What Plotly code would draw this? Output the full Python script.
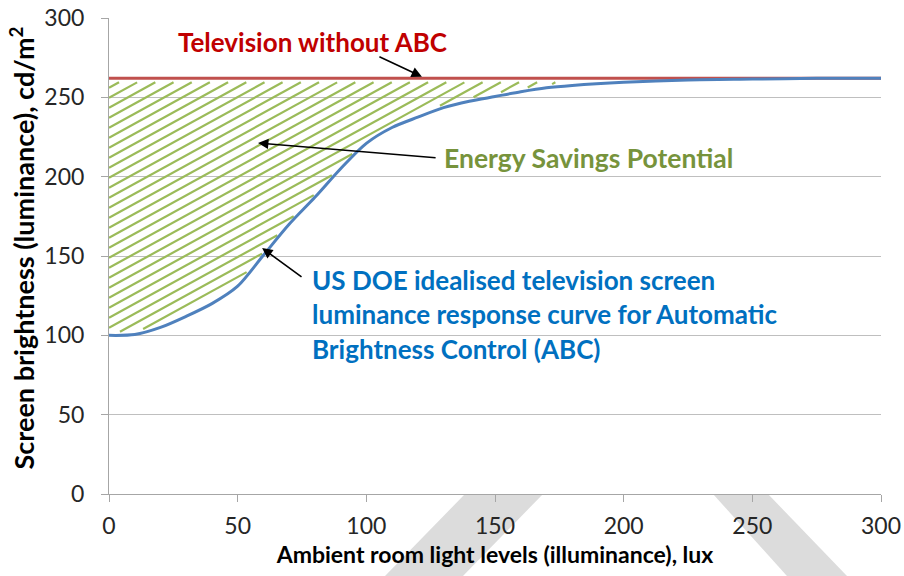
import numpy as np
import plotly.graph_objects as go

# ---- data ----
lux = [0, 10, 20, 30, 40, 50, 60, 70, 80, 90, 100, 110, 120, 130, 140, 150,
       160, 170, 180, 200, 225, 250, 275, 300]
abc_luminance = [100, 100.5, 105, 112, 120, 131, 150.5, 170, 187, 205, 221, 231,
                 237.5, 243.5, 247.5, 250.5, 253.5, 256, 257.5, 259.5, 261, 261.5, 262, 262]
no_abc_lux = [0, 300]
no_abc_luminance = [262, 262]

x_ticks = [0, 50, 100, 150, 200, 250, 300]
y_ticks = [0, 50, 100, 150, 200, 250, 300]

FONT = "Lato, 'Open Sans', sans-serif"

# ---- hatch lines for the "energy savings" area (computed from the curves) ----
W, H = 772, 476
sx, sy = W / 300.0, H / 300.0
pix_slope = 0.55
m = pix_slope * sx / sy
dc = 10.0 / sy
c0 = 243.4
top = no_abc_luminance[0] - 2.5
xs = np.linspace(0, 180, 3000)
curve = np.interp(xs, lux, abc_luminance)
hx, hy = [], []
k = -5
while True:
    c = c0 - k * dc
    if c < 100 - m * 200:
        break
    k += 1
    ys = m * xs + c
    mask = (ys < top) & (ys > curve + 2.0)
    if not mask.any():
        continue
    idx = np.flatnonzero(mask)
    breaks = np.flatnonzero(np.diff(idx) > 1)
    starts = np.concatenate([[idx[0]], idx[breaks + 1]])
    ends = np.concatenate([idx[breaks], [idx[-1]]])
    for s, e in zip(starts, ends):
        if e - s < 3:
            continue
        hx += [xs[s], xs[e], None]
        hy += [ys[s], ys[e], None]

fig = go.Figure()
fig.add_trace(go.Scatter(x=hx, y=hy, mode="lines",
                         line=dict(color="#9BBB59", width=2.2),
                         hoverinfo="skip", showlegend=False))
fig.add_trace(go.Scatter(x=no_abc_lux, y=no_abc_luminance, mode="lines",
                         line=dict(color="#C0504D", width=3), showlegend=False))
fig.add_trace(go.Scatter(x=lux, y=abc_luminance, mode="lines",
                         line=dict(color="#4F81BD", width=3, shape="spline", smoothing=0.8),
                         showlegend=False))

# decorative grey bands below the axis
bands = [
    [(0.4611, 0.0), (0.5622, 0.0), (0.4585, -0.1723), (0.3575, -0.1723)],
    [(0.7824, 0.0), (0.8536, 0.0), (0.9560, -0.1723), (0.8782, -0.1723)],
]
for b in bands:
    path = "M " + " L ".join(f"{px},{py}" for px, py in b) + " Z"
    fig.add_shape(type="path", path=path, xref="paper", yref="paper",
                  fillcolor="#DCDCDC", line=dict(width=0), layer="below")

ann = []
ann.append(dict(x=79, y=285, text="<b>Television without ABC</b>", showarrow=False,
                xanchor="center", yanchor="middle",
                font=dict(family=FONT, size=26, color="#C00000")))
ann.append(dict(x=129.5, y=212, text="<b>Energy Savings Potential</b>", showarrow=False,
                xanchor="left", yanchor="middle",
                font=dict(family=FONT, size=26.5, color="#77933C")))
blue_lines = ["US DOE idealised television screen",
              "luminance response curve for Automatic",
              "Brightness Control (ABC)"]
for i, t in enumerate(blue_lines):
    ann.append(dict(x=78.1, y=135.0 - i * 21.7, text=f"<b>{t}</b>", showarrow=False,
                    xanchor="left", yanchor="middle",
                    font=dict(family=FONT, size=26, color="#0070C0")))
arrows = [((104.5, 276), (121.6, 263)),
          ((127.5, 211.8), (57.9, 221.2)),
          ((75.4, 136.1), (59.5, 155))]
for (tx, ty), (hx_, hy_) in arrows:
    ann.append(dict(x=hx_, y=hy_, ax=tx, ay=ty, axref="x", ayref="y", text="",
                    showarrow=True, arrowhead=2, arrowsize=1.3, arrowwidth=1.6,
                    arrowcolor="#000000", standoff=0))
# y-axis title (placed as an annotation so it can sit slightly above centre)
ann.append(dict(xref="paper", yref="paper", x=-0.1127, y=0.518, textangle=-90,
                text="<b>Screen brightness (luminance), cd/m<sup>2</sup></b>",
                showarrow=False, xanchor="center", yanchor="middle",
                font=dict(family=FONT, size=27, color="#000000")))

fig.update_layout(
    width=904, height=576,
    margin=dict(l=109, r=23, t=18, b=82, autoexpand=False),
    paper_bgcolor="white", plot_bgcolor="white",
    annotations=ann,
    font=dict(family=FONT, color="#000000"),
    xaxis=dict(range=[0, 300], tickvals=x_ticks, ticks="outside", ticklen=7,
               tickcolor="#A6A6A6", showline=True, linecolor="#A6A6A6", linewidth=1,
               showgrid=False, zeroline=False, automargin=False, ticklabelstandoff=4,
               ticklabeloverflow="allow",
               tickfont=dict(family=FONT, size=23, color="#262626"),
               title=dict(text="<b>Ambient room light levels (illuminance), lux</b>",
                          font=dict(family=FONT, size=23, color="#000000"), standoff=9)),
    yaxis=dict(range=[0, 300], tickvals=y_ticks, ticks="outside", ticklen=7,
               tickcolor="#A6A6A6", showline=True, linecolor="#A6A6A6", linewidth=1,
               showgrid=True, gridcolor="#BFBFBF", gridwidth=1, zeroline=False,
               automargin=False, ticklabelstandoff=12, ticklabeloverflow="allow",
               tickfont=dict(family=FONT, size=23, color="#262626")),
)

# remove the default page margin so the figure fills the browser window exactly
fig.write_html("out.html",
               config={"displayModeBar": False},
               post_script="document.body.style.margin='0px';"
                           "document.body.style.overflow='hidden';")
